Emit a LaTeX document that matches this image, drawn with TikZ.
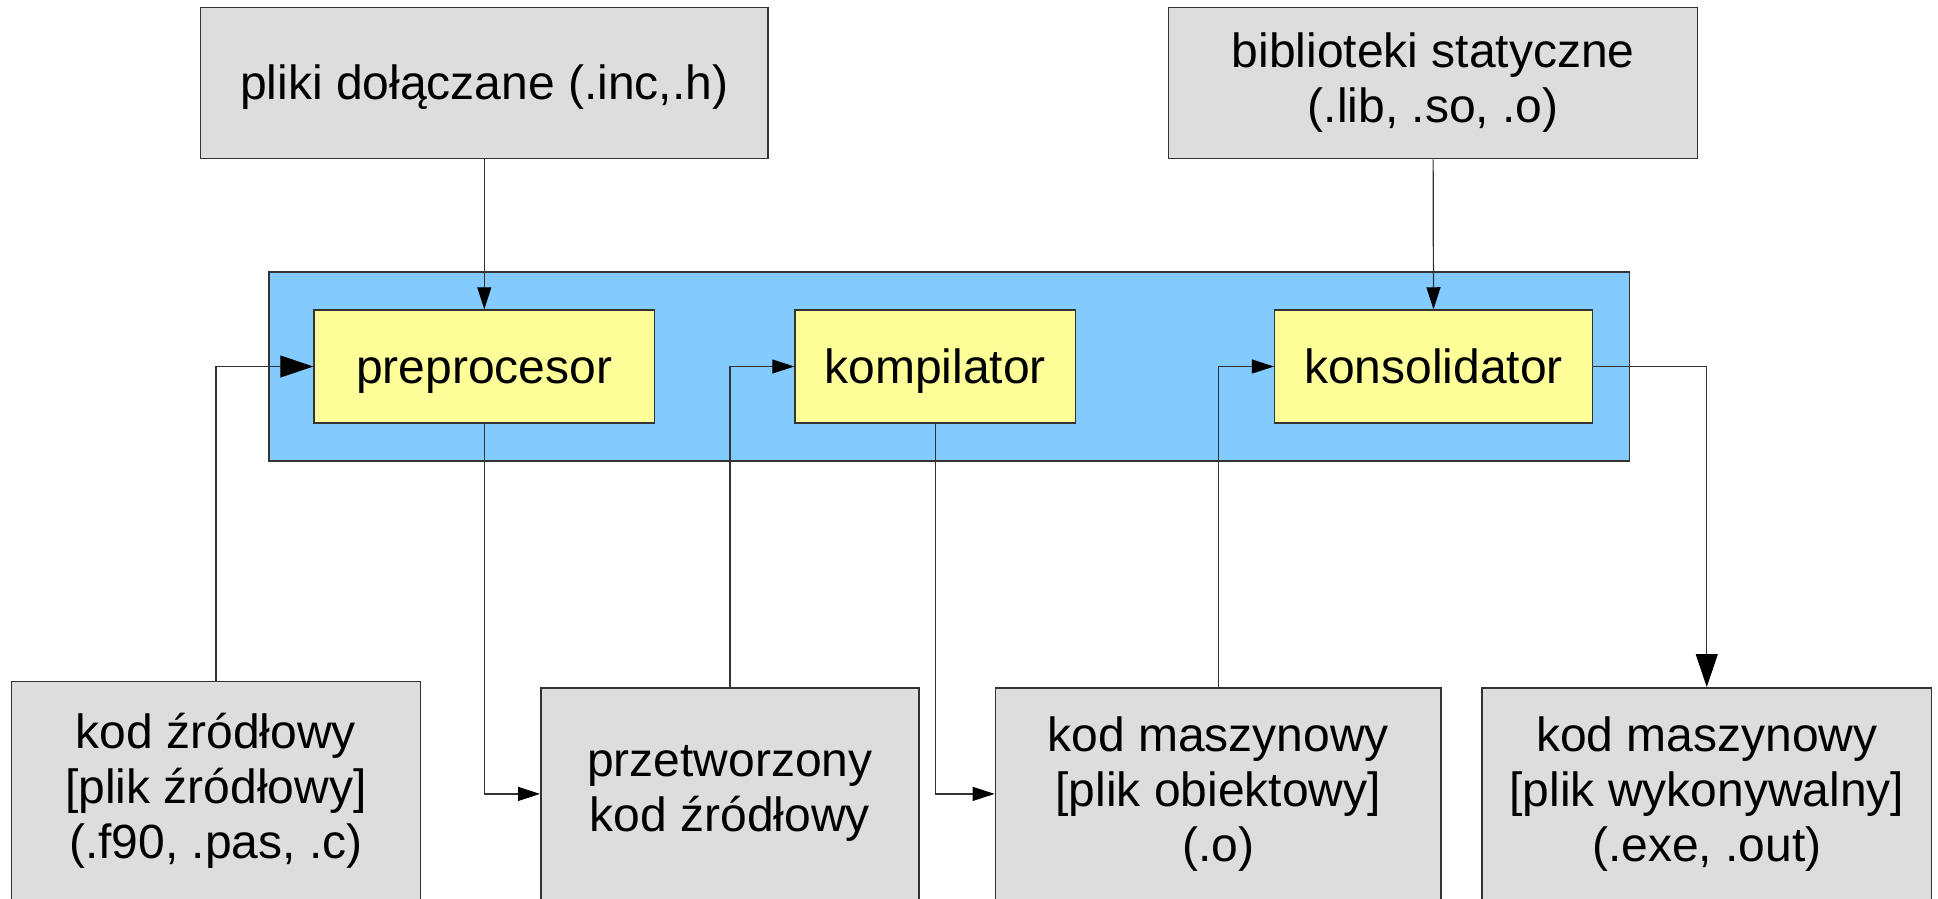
\documentclass[tikz,border=0pt]{standalone}
\usepackage{fontspec}
\setmainfont{Liberation Sans}
\usetikzlibrary{arrows.meta}

\definecolor{boxgray}{HTML}{DDDDDD}
\definecolor{stageyellow}{HTML}{FFFF99}
\definecolor{toolblue}{HTML}{83CAFF}
\definecolor{edgegray}{HTML}{333333}

% line strut with the ascent and descent of the sans font at 48pt
\newcommand{\linestrut}{\rule[-10.2pt]{0pt}{53.6pt}}

\tikzset{
  labelled/.style={inner sep=0pt, align=center, font=\fontsize{48}{55}\selectfont,
    execute at begin node=\linestrut, execute at end node=\linestrut},
  filebox/.style={labelled, draw=edgegray, line width=1.5pt, fill=boxgray, rectangle},
  stagebox/.style={labelled, draw=edgegray, line width=1.5pt, fill=stageyellow, rectangle},
  toolframe/.style={draw=edgegray, line width=1.5pt, fill=toolblue, rectangle, inner sep=0pt},
  flow/.style={draw=edgegray, line width=1.2pt, -{Triangle[length=22pt,width=14pt,color=black]}},
  bigflow/.style={draw=edgegray, line width=1.2pt, -{Triangle[length=33pt,width=22pt,color=black]}}
}

\begin{document}
\begin{tikzpicture}[x=1pt, y=-1pt]
  \useasboundingbox (0,0) rectangle (1938,898);
  \clip (0,0) rectangle (1938,898);

  % toolchain frame
  \node[toolframe, minimum width=1360.5pt, minimum height=189pt] (frame) at (949.25,366.5) {};

  % stages
  \node[stagebox, minimum width=340.6pt, minimum height=113pt] (pre) at (484.3,366.5) {preprocesor};
  \node[stagebox, minimum width=280.4pt, minimum height=113pt] (komp) at (935.2,366.5) {kompilator};
  \node[stagebox, minimum width=317.7pt, minimum height=113pt] (kons) at (1433.5,366.5) {konsolidator};

  % extra inputs
  \node[filebox, minimum width=567.5pt, minimum height=151.4pt] (inc) at (484.3,83) {pliki dołączane (.inc,.h)};
  \node[filebox, minimum width=528.8pt, minimum height=151.4pt] (lib) at (1433.1,83) {biblioteki statyczne\\(.lib, .so, .o)};

  % intermediate files
  \node[filebox, minimum width=408.8pt, minimum height=219.7pt] (src) at (215.9,791.2) {kod źródłowy\\{[}plik źródłowy{]}\\(.f90, .pas, .c)};
  \node[filebox, minimum width=378.2pt, minimum height=212.3pt] (prz) at (729.9,793.9) {przetworzony\\kod źródłowy};
  \node[filebox, minimum width=445.6pt, minimum height=212.3pt] (obj) at (1218.2,793.9) {kod maszynowy\\{[}plik obiektowy{]}\\(.o)};
  \node[filebox, minimum width=449.9pt, minimum height=212.3pt] (exe) at (1706.75,793.9) {kod maszynowy\\{[}plik wykonywalny{]}\\(.exe, .out)};

  % connectors
  \draw[flow] (inc.south) -- (pre.north);
  \draw[flow] (lib.south) -- (kons.north);
  \draw[bigflow] (src.north) |- (pre.west);
  \draw[flow] (pre.south) |- (prz.west);
  \draw[flow] (prz.north) |- (komp.west);
  \draw[flow] (komp.south) |- (obj.west);
  \draw[flow] (obj.north) |- (kons.west);
  \draw[bigflow] (kons.east) -| (exe.north);
\end{tikzpicture}
\end{document}
